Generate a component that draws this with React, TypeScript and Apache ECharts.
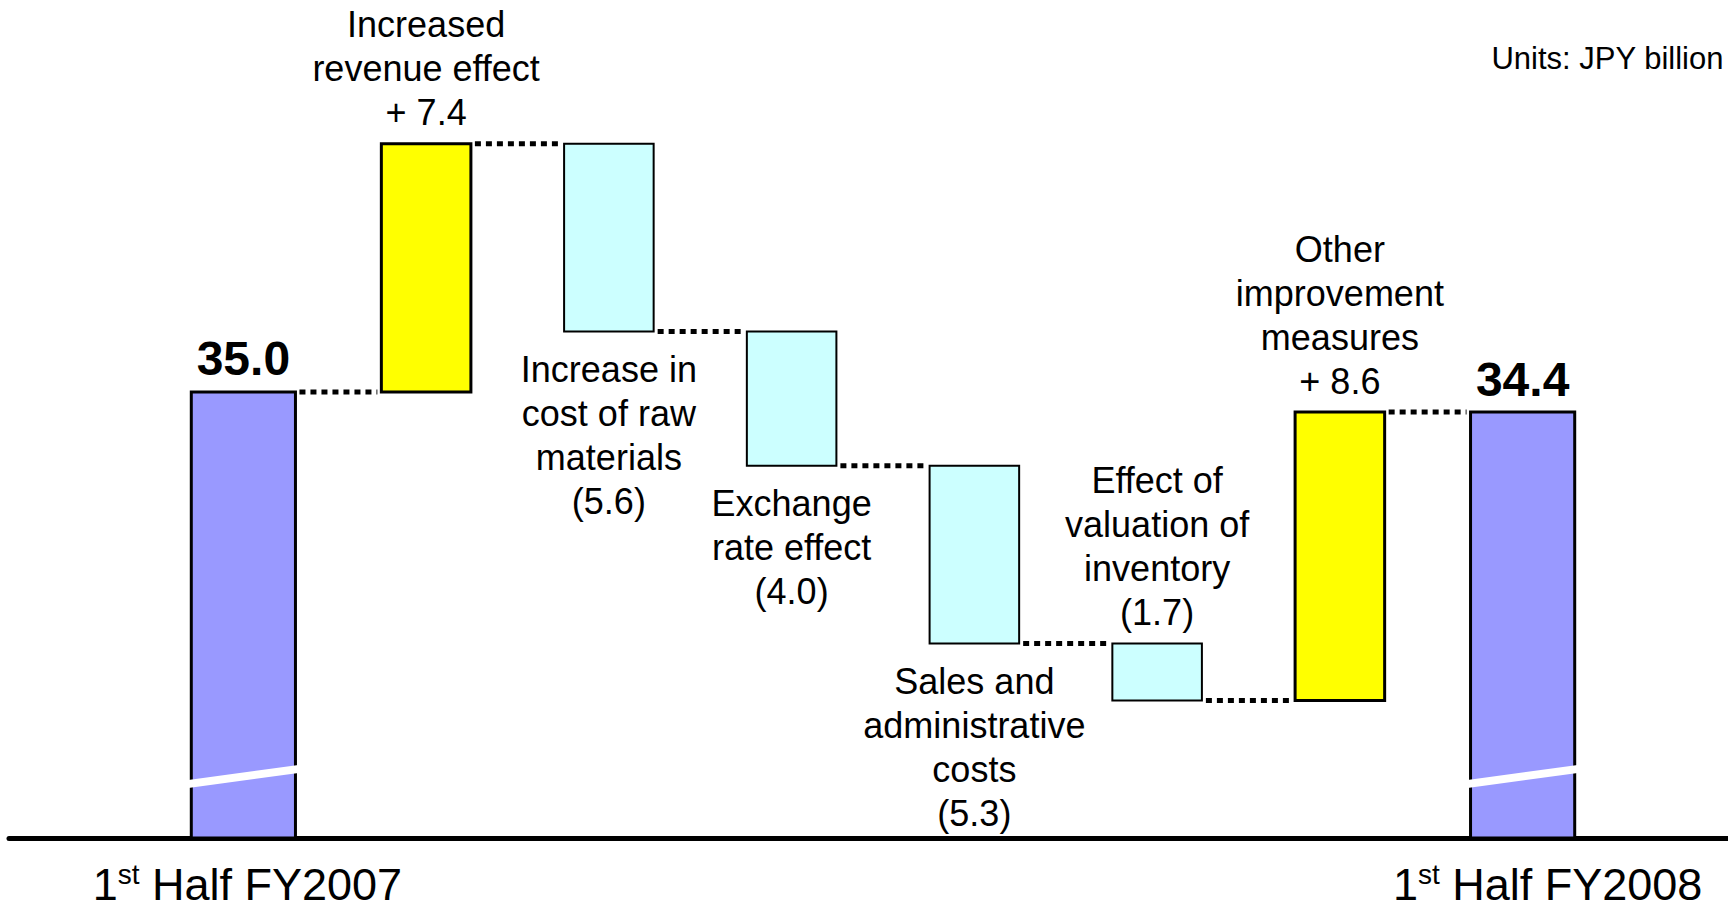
import React, { useEffect, useRef } from 'react';
import * as echarts from 'echarts';

const categories = [
  '1st Half FY2007',
  'Increased revenue effect',
  'Increase in cost of raw materials',
  'Exchange rate effect',
  'Sales and administrative costs',
  'Effect of valuation of inventory',
  'Other improvement measures',
  '1st Half FY2008',
];
const startTotal = 35.0;
const deltas = [7.4, -5.6, -4.0, -5.3, -1.7, 8.6];
const endTotal = 34.4;
const barLabels = [
  '35.0',
  'Increased\nrevenue effect\n+ 7.4',
  'Increase in\ncost of raw\nmaterials\n(5.6)',
  'Exchange\nrate effect\n(4.0)',
  'Sales and\nadministrative\ncosts\n(5.3)',
  'Effect of\nvaluation of\ninventory\n(1.7)',
  'Other\nimprovement\nmeasures\n+ 8.6',
  '34.4',
];
const labelBelow = [false, false, true, true, true, false, false, false];
const unitsText = 'Units: JPY billion';
const yMin = 21.7;
const yMax = 46;

const FONT = '"Liberation Sans", Arial, Helvetica, sans-serif';
const COLORS = ['#9999FF', '#FFFF00', '#CCFFFF'];

// kinds: 0 total, 1 increase, 2 decrease
const kinds: number[] = [0];
const rows: number[][] = [];
{
  let run = startTotal;
  rows.push([0, 0, startTotal, 0, startTotal]);
  deltas.forEach((d, k) => {
    const next = run + d;
    const kind = d > 0 ? 1 : 2;
    kinds.push(kind);
    rows.push([k + 1, Math.min(run, next), Math.max(run, next), kind, next]);
    run = next;
  });
  kinds.push(0);
  rows.push([categories.length - 1, 0, endTotal, 0, endTotal]);
}

const widthRatio = (kind: number) => (kind === 0 ? 0.57 : 0.49);

function renderItem(params: any, api: any) {
  const i = api.value(0);
  const lo = api.value(1);
  const hi = api.value(2);
  const kind = api.value(3);
  const level = api.value(4);
  const cs = params.coordSys;
  const band = api.size([1, 0])[0];
  const w = band * widthRatio(kind);
  const top = api.coord([i, hi]);
  const cx = top[0];
  const yTop = top[1];
  const yBot = Math.min(api.coord([i, lo])[1], cs.y + cs.height);
  const x0 = cx - w / 2;
  const x1 = cx + w / 2;
  const children: any[] = [];

  if (i < categories.length - 1) {
    const ly = api.coord([i, level])[1];
    const nw = band * widthRatio(kinds[i + 1]);
    children.push({
      type: 'line',
      shape: { x1: x1 + 4, y1: ly, x2: cx + band - nw / 2 - 4, y2: ly },
      style: { stroke: '#000', lineWidth: 5, lineDash: [6, 5] },
    });
  }

  children.push({
    type: 'rect',
    shape: { x: x0, y: yTop, width: w, height: yBot - yTop },
    style: { fill: COLORS[kind], stroke: '#000', lineWidth: kind === 2 ? 2 : 3 },
  });

  if (kind === 0) {
    const a = 54;
    const b = 69;
    const t = 4;
    children.push({
      type: 'polygon',
      shape: {
        points: [
          [x0 - 3, yBot - a + t],
          [x1 + 3, yBot - b + t],
          [x1 + 3, yBot - b - t],
          [x0 - 3, yBot - a - t],
        ],
      },
      style: { fill: '#fff' },
    });
  }

  const below = labelBelow[i];
  const bold = kind === 0;
  children.push({
    type: 'text',
    x: cx,
    y: below ? yBot + 16 : yTop - (bold ? 8 : 9),
    style: {
      text: barLabels[i],
      align: 'center',
      verticalAlign: below ? 'top' : 'bottom',
      fontSize: bold ? 48 : 36,
      fontWeight: bold ? 'bold' : 'normal',
      fontFamily: FONT,
      lineHeight: bold ? 50 : 44,
      fill: '#000',
    },
  });

  return { type: 'group', children };
}

export default function App() {
  const ref = useRef<HTMLDivElement>(null);
  useEffect(() => {
    document.body.style.margin = '0';
    const chart = echarts.init(ref.current!, null, { renderer: 'svg' });
    chart.setOption({
      animation: false,
      backgroundColor: '#fff',
      title: {
        text: unitsText,
        right: 4,
        top: 43,
        padding: 0,
        textStyle: { fontSize: 31, fontWeight: 'normal', color: '#000', fontFamily: FONT },
      },
      grid: [
        { left: 152, right: 114, top: 23, bottom: 70 },
        { left: 9, right: 0, top: 23, bottom: 70 },
      ],
      xAxis: [
        {
          type: 'category',
          gridIndex: 0,
          data: categories,
          axisLine: { show: false },
          axisTick: { show: false },
          splitLine: { show: false },
          axisLabel: {
            interval: 0,
            margin: 22,
            formatter: (v: string, idx: number) => {
              const m = /^1st (.*)$/.exec(v);
              if (!m) return '';
              return `{${idx === 0 ? 'g0' : 'g1'}|}{n|1}{s|st}{n| ${m[1]}}`;
            },
            rich: {
              g0: { width: 8 },
              g1: { width: 50 },
              n: { fontSize: 45, fontFamily: FONT, color: '#000', lineHeight: 48 },
              s: { fontSize: 28, fontFamily: FONT, color: '#000', lineHeight: 32, verticalAlign: 'top' },
            },
          },
        },
        {
          type: 'value',
          gridIndex: 1,
          axisLine: { show: true, onZero: false, lineStyle: { color: '#000', width: 5 } },
          axisTick: { show: false },
          axisLabel: { show: false },
          splitLine: { show: false },
        },
      ],
      yAxis: [
        { type: 'value', gridIndex: 0, min: yMin, max: yMax, show: false, splitLine: { show: false } },
        { type: 'value', gridIndex: 1, show: false, splitLine: { show: false } },
      ],
      series: [
        {
          type: 'custom',
          xAxisIndex: 0,
          yAxisIndex: 0,
          renderItem,
          data: rows,
          clip: false,
        },
      ],
    });
    return () => chart.dispose();
  }, []);
  return <div ref={ref} style={{ width: 1728, height: 908 }} />;
}
